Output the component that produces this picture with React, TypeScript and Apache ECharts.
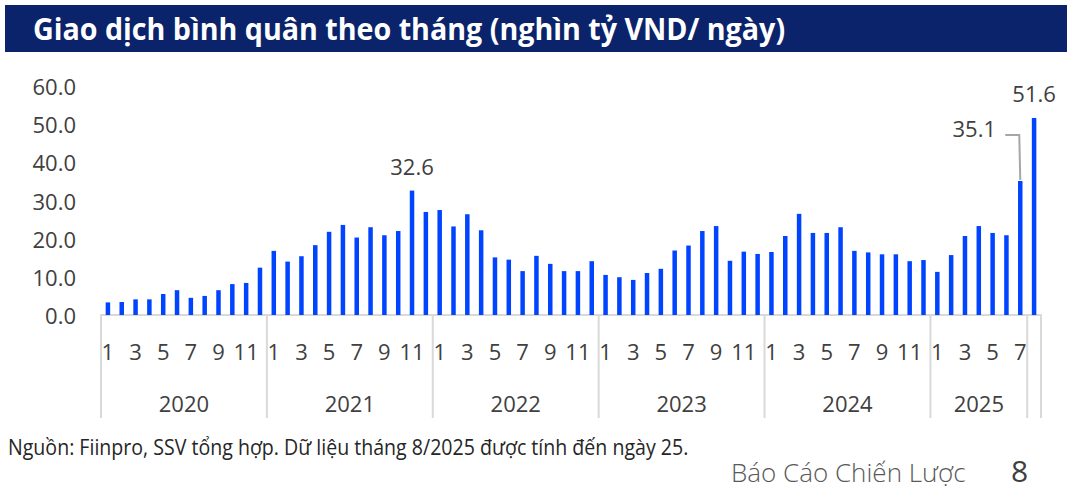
import React, { useEffect, useRef } from "react";
import * as echarts from "echarts";

const titleText = "Giao dịch bình quân theo tháng (nghìn tỷ VND/ ngày)";
const sourceText = "Nguồn: Fiinpro, SSV tổng hợp. Dữ liệu tháng 8/2025 được tính đến ngày 25.";
const footerText = "Báo Cáo Chiến Lược";
const pageNumber = "8";

const years = ["2020", "2021", "2022", "2023", "2024", "2025"];
const monthsFull = ["1", "2", "3", "4", "5", "6", "7", "8", "9", "10", "11", "12"];
const months2025 = ["1", "2", "3", "4", "5", "6", "7", "8"];

const values2020 = [3.3, 3.4, 4.1, 4.1, 5.5, 6.5, 4.5, 5.0, 6.5, 8.1, 8.4, 12.4];
const values2021 = [16.8, 14.0, 15.4, 18.3, 21.8, 23.6, 20.3, 23.0, 20.9, 22.0, 32.6, 27.0];
const values2022 = [27.5, 23.2, 26.4, 22.2, 15.1, 14.5, 11.5, 15.5, 13.4, 11.5, 11.5, 14.1];
const values2023 = [10.5, 9.9, 9.2, 11.0, 12.1, 16.9, 18.2, 22.0, 23.3, 14.2, 16.6, 16.0];
const values2024 = [16.5, 20.7, 26.5, 21.5, 21.5, 23.0, 16.8, 16.4, 15.9, 15.9, 14.1, 14.4];
const values2025 = [11.3, 15.7, 20.7, 23.3, 21.5, 20.9, 35.1, 51.6];

// labelled points: [index in full series]
const labelledIdx = [22, 66, 67];
const leaderIdx = 66;

const FONT = "'Open Sans', 'Noto Sans', sans-serif";
const TXT = "#404040";

export default function App() {
  const ref = useRef<HTMLDivElement>(null);
  useEffect(() => {
    document.body.style.margin = "0";
    if (!ref.current) return;
    const chart = echarts.init(ref.current, null, { renderer: "svg" });

    const categories: string[] = [];
    const values: number[] = [];
    const groupSizes: number[] = [];
    const allVals = [values2020, values2021, values2022, values2023, values2024, values2025];
    years.forEach((y, i) => {
      const ms = i === 5 ? months2025 : monthsFull;
      ms.forEach((m) => categories.push(m));
      allVals[i].forEach((v) => values.push(v));
      groupSizes.push(i === 5 ? 7 : 12);
    });

    const data = values.map((v, i) => {
      if (!labelledIdx.includes(i)) return v;
      const item: any = { value: v, label: { show: true } };
      if (i === leaderIdx) item.label.offset = [-46, -28];
      return item;
    });

    chart.setOption({
      animation: false,
      grid: { left: 101, right: 31, top: 86, bottom: 182 },
      xAxis: {
        type: "category",
        data: categories,
        axisTick: { show: false },
        axisLine: { lineStyle: { color: "#d9d9d9", width: 2 } },
        axisLabel: {
          interval: (index: number) => index % 2 === 0 && index !== 67,
          color: TXT,
          fontFamily: FONT,
          fontSize: 22,
          margin: 25,
        },
      },
      yAxis: {
        type: "value",
        min: 0,
        max: 60,
        interval: 10,
        splitLine: { show: false },
        axisLine: { show: false },
        axisTick: { show: false },
        axisLabel: {
          color: TXT,
          fontFamily: FONT,
          fontSize: 22,
          margin: 25,
          formatter: (v: number) => v.toFixed(1),
        },
      },
      series: [
        {
          type: "bar",
          data,
          barWidth: 4.5,
          itemStyle: { color: "#0044FF" },
          label: {
            show: false,
            position: "top",
            distance: 14,
            color: TXT,
            fontFamily: FONT,
            fontSize: 22,
            formatter: (p: any) => Number(p.value).toFixed(1),
          },
        },
      ],
    });

    const cx = (i: number) => chart.convertToPixel({ xAxisIndex: 0 }, i) as number;
    const bw = cx(1) - cx(0);
    const boundary = (i: number) => cx(0) + (i - 0.5) * bw;
    const y0 = chart.convertToPixel({ yAxisIndex: 0 }, 0) as number;

    const graphics: any[] = [
      { type: "rect", shape: { x: 5, y: 5, width: 1062, height: 47 }, style: { fill: "#0A236A" }, z: 10 },
      {
        type: "text",
        x: 33,
        y: 29,
        scaleX: 0.955,
        style: { text: titleText, fill: "#ffffff", font: `bold 30px ${FONT}`, textVerticalAlign: "middle" },
        z: 11,
      },
      {
        type: "text",
        x: 8,
        y: 447,
        scaleX: 0.89,
        style: { text: sourceText, fill: "#262626", font: `22px ${FONT}`, textVerticalAlign: "middle" },
      },
      {
        type: "text",
        x: 731,
        y: 472,
        style: { text: footerText, fill: "#595959", font: `300 26px ${FONT}`, textVerticalAlign: "middle" },
      },
      {
        type: "text",
        x: 1011,
        y: 470,
        style: { text: pageNumber, fill: TXT, font: `30px ${FONT}`, textVerticalAlign: "middle" },
      },
    ];

    // separators
    const seps: number[] = [0];
    let acc = 0;
    groupSizes.forEach((g) => {
      acc += g;
      seps.push(acc);
    });
    seps.push(categories.length);
    seps.forEach((s) => {
      const x = boundary(s);
      graphics.push({
        type: "line",
        shape: { x1: x, y1: y0, x2: x, y2: y0 + 103 },
        style: { stroke: "#d9d9d9", lineWidth: 2 },
      });
    });
    // year labels
    let start = 0;
    years.forEach((y, i) => {
      const end = start + groupSizes[i];
      const xm = (boundary(start) + boundary(end)) / 2;
      graphics.push({
        type: "text",
        x: xm,
        y: y0 + 88,
        style: { text: y, fill: TXT, font: `22px ${FONT}`, textAlign: "center", textVerticalAlign: "middle" },
      });
      start = end;
    });
    // leader line
    const p = chart.convertToPixel({ seriesIndex: 0 }, [leaderIdx, values[leaderIdx]]) as number[];
    graphics.push({
      type: "polyline",
      shape: {
        points: [
          [p[0] - 15, p[1] - 46],
          [p[0] - 1, p[1] - 46],
          [p[0], p[1] - 1],
        ],
      },
      style: { stroke: "#a6a6a6", lineWidth: 2, fill: null },
    });

    chart.setOption({ graphic: graphics });
    return () => chart.dispose();
  }, []);
  return <div ref={ref} style={{ width: 1072, height: 497 }} />;
}
